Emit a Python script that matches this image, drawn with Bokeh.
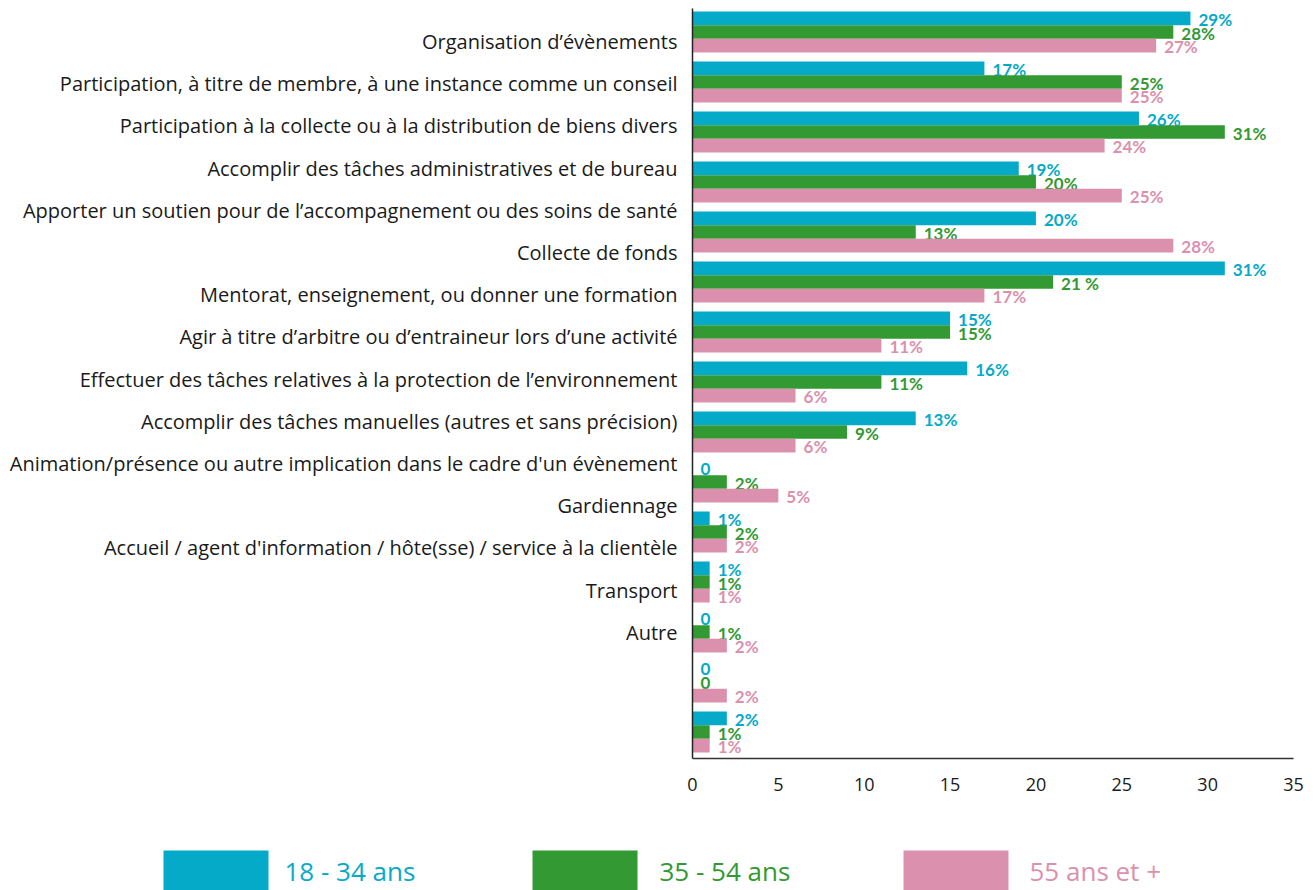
from bokeh.plotting import figure
from bokeh.models import Range1d, LinearAxis, FixedTicker
from bokeh.layouts import column
from bokeh.core.properties import value
from bokeh.embed import file_html
from bokeh.resources import INLINE

categories = [
    "Organisation d’évènements",
    "Participation, à titre de membre, à une instance comme un conseil",
    "Participation à la collecte ou à la distribution de biens divers",
    "Accomplir des tâches administratives et de bureau",
    "Apporter un soutien pour de l’accompagnement ou des soins de santé",
    "Collecte de fonds",
    "Mentorat, enseignement, ou donner une formation",
    "Agir à titre d’arbitre ou d’entraineur lors d’une activité",
    "Effectuer des tâches relatives à la protection de l’environnement",
    "Accomplir des tâches manuelles (autres et sans précision)",
    "Animation/présence ou autre implication dans le cadre d'un évènement",
    "Gardiennage",
    "Accueil / agent d'information / hôte(sse) / service à la clientèle",
    "Transport",
    "Autre",
]
age_groups = ["18 - 34 ans", "35 - 54 ans", "55 ans et +"]
colors = ["#06AAC9", "#339933", "#DB91AD"]

young = [29, 17, 26, 19, 20, 31, 15, 16, 13, 0, 1, 1, 0, 0, 2]
mid = [28, 25, 31, 20, 13, 21, 15, 11, 9, 2, 2, 1, 1, 0, 1]
old = [27, 25, 24, 25, 28, 17, 11, 6, 6, 5, 2, 1, 2, 2, 1]

young_lbl = ["29%", "17%", "26%", "19%", "20%", "31%", "15%", "16%", "13%", "0", "1%", "1%", "0", "0", "2%"]
mid_lbl = ["28%", "25%", "31%", "20%", "13%", "21 %", "15%", "11%", "9%", "2%", "2%", "1%", "1%", "0", "1%"]
old_lbl = ["27%", "25%", "24%", "25%", "28%", "17%", "11%", "6%", "6%", "5%", "2%", "1%", "2%", "2%", "1%"]

x_ticks = [0, 5, 10, 15, 20, 25, 30, 35]

FONT = "Open Sans"
W = 1307
H = 826
LH = 64
FL, FR, FT, FB = 692, 1293, 8, 758  # frame edges in canvas pixels

p = figure(width=W, height=H, x_range=Range1d(0, 35), y_range=Range1d(16.99, -0.782),
           output_backend="svg", toolbar_location=None,
           min_border_left=FL, min_border_right=W - FR, min_border_top=FT, min_border_bottom=H - FB,
           x_axis_location=None, y_axis_location=None)
p.outline_line_color = None
p.xgrid.visible = False
p.ygrid.visible = False
p.extra_y_ranges = {"bars": Range1d(14.53, -0.47)}

n = len(young)
bh = 0.2733
series = [(young, young_lbl, -bh), (mid, mid_lbl, 0.0), (old, old_lbl, bh)]
for (vals, lbls, off), col in zip(series, colors):
    ys = [i + off for i in range(n)]
    p.hbar(y=ys, left=0, right=vals, height=bh, color=col, line_color=None, y_range_name="bars")
    p.text(x=vals, y=ys, text=lbls, x_offset=8, y_offset=1, text_baseline="middle", text_align="left",
           text_font=value("Lato"), text_font_style="bold", text_font_size="17px",
           text_color=col, y_range_name="bars")

yaxis = LinearAxis(ticker=FixedTicker(ticks=list(range(len(categories)))),
                   major_label_overrides={i: c for i, c in enumerate(categories)})
yaxis.axis_line_color = "#222222"
yaxis.axis_line_width = 1.5
yaxis.major_tick_out = 0
yaxis.major_tick_in = 0
yaxis.minor_tick_out = 0
yaxis.minor_tick_in = 0
yaxis.major_label_standoff = 15
yaxis.major_label_text_font = FONT
yaxis.major_label_text_font_size = "20px"
yaxis.major_label_text_color = "#1a1a1a"
p.add_layout(yaxis, "left")

xaxis = LinearAxis(ticker=FixedTicker(ticks=x_ticks))
xaxis.axis_line_color = "#333333"
xaxis.axis_line_width = 1.5
xaxis.major_tick_out = 0
xaxis.major_tick_in = 0
xaxis.minor_tick_out = 0
xaxis.minor_tick_in = 0
xaxis.major_label_standoff = 19
xaxis.major_label_text_font = FONT
xaxis.major_label_text_font_size = "18px"
xaxis.major_label_text_color = "#1a1a1a"
p.add_layout(xaxis, "below")

# legend strip (its own figure, pixel coordinates)
lg = figure(width=W, height=LH, x_range=Range1d(0, W), y_range=Range1d(LH, 0),
            output_backend="svg", toolbar_location=None, min_border=0,
            x_axis_location=None, y_axis_location=None)
lg.outline_line_color = None
lg.xgrid.visible = False
lg.ygrid.visible = False
for fig in (p, lg):
    try:
        fig.frame_align = False
    except AttributeError:
        pass

box_left = [163, 532, 903]
text_left = [284, 659, 1029]
lg.quad(left=box_left, right=[b + 105 for b in box_left], top=[24] * 3, bottom=[LH] * 3,
        color=colors, line_color=None)
lg.text(x=text_left, y=[44] * 3, text=age_groups, text_color=colors,
        text_baseline="middle", text_align="left", text_font=value(FONT), text_font_size="26px")

layout = column(p, lg)
open("out.html", "w").write(file_html(layout, INLINE))
